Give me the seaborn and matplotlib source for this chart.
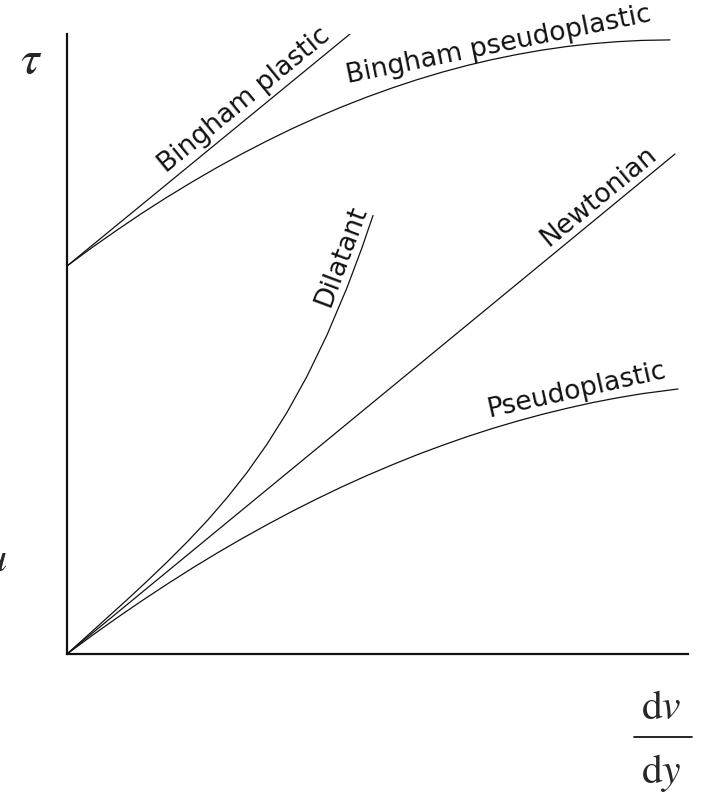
import numpy as np
import pandas as pd
import matplotlib
matplotlib.use("Agg")
import matplotlib.pyplot as plt
import seaborn as sns
from matplotlib.lines import Line2D

# ---- data (axis units are arbitrary) ----
bingham_plastic_x = [0, 283]
bingham_plastic_y = [388, 620]

bingham_pseudo_x = [0, 25, 50, 75, 100, 125, 150, 175, 200, 225, 250, 275, 300,
                    325, 350, 375, 400, 425, 450, 475, 500, 525, 550, 575, 603]
bingham_pseudo_y = [388, 406.4, 423.9, 440.8, 456.8, 472.0, 486.5, 500.2, 513.1,
                    525.3, 536.6, 547.2, 557.0, 566.0, 574.3, 581.8, 588.5, 594.4,
                    599.5, 603.9, 607.5, 610.3, 612.3, 613.6, 614.1]

dilatant_x = [0, 20, 40, 60, 80, 100, 120, 140, 160, 180, 200, 220, 240, 260, 280, 295, 306]
dilatant_y = [0, 18, 36.1, 54.2, 72.8, 91.9, 111.9, 133.1, 156.2, 181.5, 209.8,
              241.6, 277.7, 319.0, 366.3, 406.3, 438.5]

newtonian_x = [0, 608]
newtonian_y = [0, 500]

pseudo_x = [0, 25, 50, 75, 100, 125, 150, 175, 200, 225, 250, 275, 300, 325, 350,
            375, 400, 425, 450, 475, 500, 525, 550, 575, 611]
pseudo_y = [0, 18.4, 36.2, 53.3, 69.8, 85.7, 100.9, 115.4, 129.3, 142.6, 155.2,
            167.2, 178.5, 189.1, 199.2, 208.5, 217.3, 225.4, 232.8, 239.6, 245.7,
            251.3, 256.1, 260.3, 265.0]

curve_names = ["Bingham plastic", "Bingham pseudoplastic", "Dilatant", "Newtonian", "Pseudoplastic"]
label_anchor_x = [188, 434, 290, 542, 513]
label_gap_pt = [2.5, 0.5, 2.5, 2.5, 2.5]

curves = {
    "Bingham plastic": (bingham_plastic_x, bingham_plastic_y),
    "Bingham pseudoplastic": (bingham_pseudo_x, bingham_pseudo_y),
    "Dilatant": (dilatant_x, dilatant_y),
    "Newtonian": (newtonian_x, newtonian_y),
    "Pseudoplastic": (pseudo_x, pseudo_y),
}

rows = []
for name, (xs, ys) in curves.items():
    for i, (x, y) in enumerate(zip(xs, ys)):
        rows.append({"curve": name, "order": i, "x": x, "y": y})
df = pd.DataFrame(rows)

sns.set_theme(style="white")
plt.rcParams["font.family"] = ["DejaVu Sans"]
plt.rcParams["mathtext.fontset"] = "stix"

W, H = 709, 803
fig = plt.figure(figsize=(W / 100, H / 100), dpi=100)
fig.patch.set_facecolor("white")
ox, oy = 67, 655
ax = fig.add_axes([ox / W, (H - oy) / H, 621 / W, 620 / H])
ax.set_facecolor("white")

sns.lineplot(data=df, x="x", y="y", units="curve", estimator=None, sort=False,
             color="#111111", linewidth=0.9, ax=ax, legend=False)

ax.set_xlim(0, 621)
ax.set_ylim(0, 620)
ax.set_xticks([])
ax.set_yticks([])
ax.set_xlabel("")
ax.set_ylabel("")
for s in ["top", "right"]:
    ax.spines[s].set_visible(False)
for s in ["left", "bottom"]:
    ax.spines[s].set_linewidth(1.6)
    ax.spines[s].set_color("#111111")

fig.canvas.draw()
for name, x0, off in zip(curve_names, label_anchor_x, label_gap_pt):
    xs, ys = curves[name]
    xs = np.asarray(xs, float)
    ys = np.asarray(ys, float)
    y0 = np.interp(x0, xs, ys)
    y1 = np.interp(x0 + 4, xs, ys)
    p0 = ax.transData.transform((x0, y0))
    p1 = ax.transData.transform((x0 + 4, y1))
    ang = np.degrees(np.arctan2(p1[1] - p0[1], p1[0] - p0[0]))
    dx = -np.sin(np.radians(ang)) * off
    dy = np.cos(np.radians(ang)) * off
    ax.annotate(name, xy=(x0, y0), xytext=(dx, dy), textcoords="offset points",
                rotation=ang, rotation_mode="anchor", ha="center", va="bottom",
                fontsize=19.2, color="#111111", annotation_clip=False)

# axis symbols
fig.text(31 / W, 1 - 60 / H, r"$\tau$", fontsize=34, ha="center", va="center")
fig.text(661 / W, 1 - 707 / H, r"$\mathrm{d}v$", fontsize=30, ha="center", va="center")
fig.text(661 / W, 1 - 773 / H, r"$\mathrm{d}y$", fontsize=30, ha="center", va="center")
fig.add_artist(Line2D([634 / W, 692 / W], [1 - 738 / H, 1 - 738 / H],
                      transform=fig.transFigure, color="black", linewidth=1.2))
# fragment of a symbol cut at the left edge
fig.text(7 / W, 1 - 561 / H, r"$\mu$", fontsize=30, ha="right", va="center")

fig.savefig("out.png", dpi=100, facecolor="white")
